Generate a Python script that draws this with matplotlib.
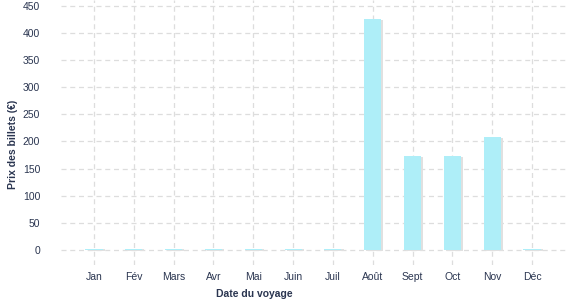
import matplotlib.pyplot as plt
import matplotlib.patheffects as pe

mois = ['Jan', 'Fév', 'Mars', 'Avr', 'Mai', 'Juin', 'Juil', 'Août', 'Sept', 'Oct', 'Nov', 'Déc']
prix = [2, 2, 2, 2, 2, 2, 2, 426, 173, 173, 208, 2]
yticks = [0, 50, 100, 150, 200, 250, 300, 350, 400, 450]

plt.rcParams['font.family'] = ['Liberation Sans', 'DejaVu Sans']
txt = '#2a3550'

fig = plt.figure(figsize=(5.77, 3.0), dpi=100)
ax = fig.add_axes([61 / 577, 35 / 300, 506 / 577, 265 / 300])

x = list(range(len(mois)))
bars = ax.bar(x, prix, width=0.43, color='#aeeef8', zorder=3)
for b in bars:
    b.set_path_effects([pe.SimplePatchShadow(offset=(1.5, -0.5), shadow_rgbFace='#e0e0e0', alpha=1), pe.Normal()])

ax.set_xlim(-0.83, 11.88)
ax.set_ylim(-28, 461)
ax.set_xticks(x)
ax.set_xticklabels(mois)
ax.set_yticks(yticks)
ax.grid(True, color='#dddddd', linestyle=(0, (4, 3)), linewidth=0.9, zorder=0)
for s in ax.spines.values():
    s.set_visible(False)
ax.tick_params(axis='both', length=0, labelsize=7.5, colors=txt)
ax.tick_params(axis='y', pad=15)
ax.tick_params(axis='x', pad=5)

ax.set_xlabel('Date du voyage', fontsize=7.5, fontweight='bold', color=txt)
ax.xaxis.set_label_coords(0.383, -0.09)
ax.set_ylabel('Prix des billets (€)', fontsize=7.5, fontweight='bold', color=txt)
ax.yaxis.set_label_coords(-0.085, 0.457)

fig.savefig('out.png', dpi=100)
